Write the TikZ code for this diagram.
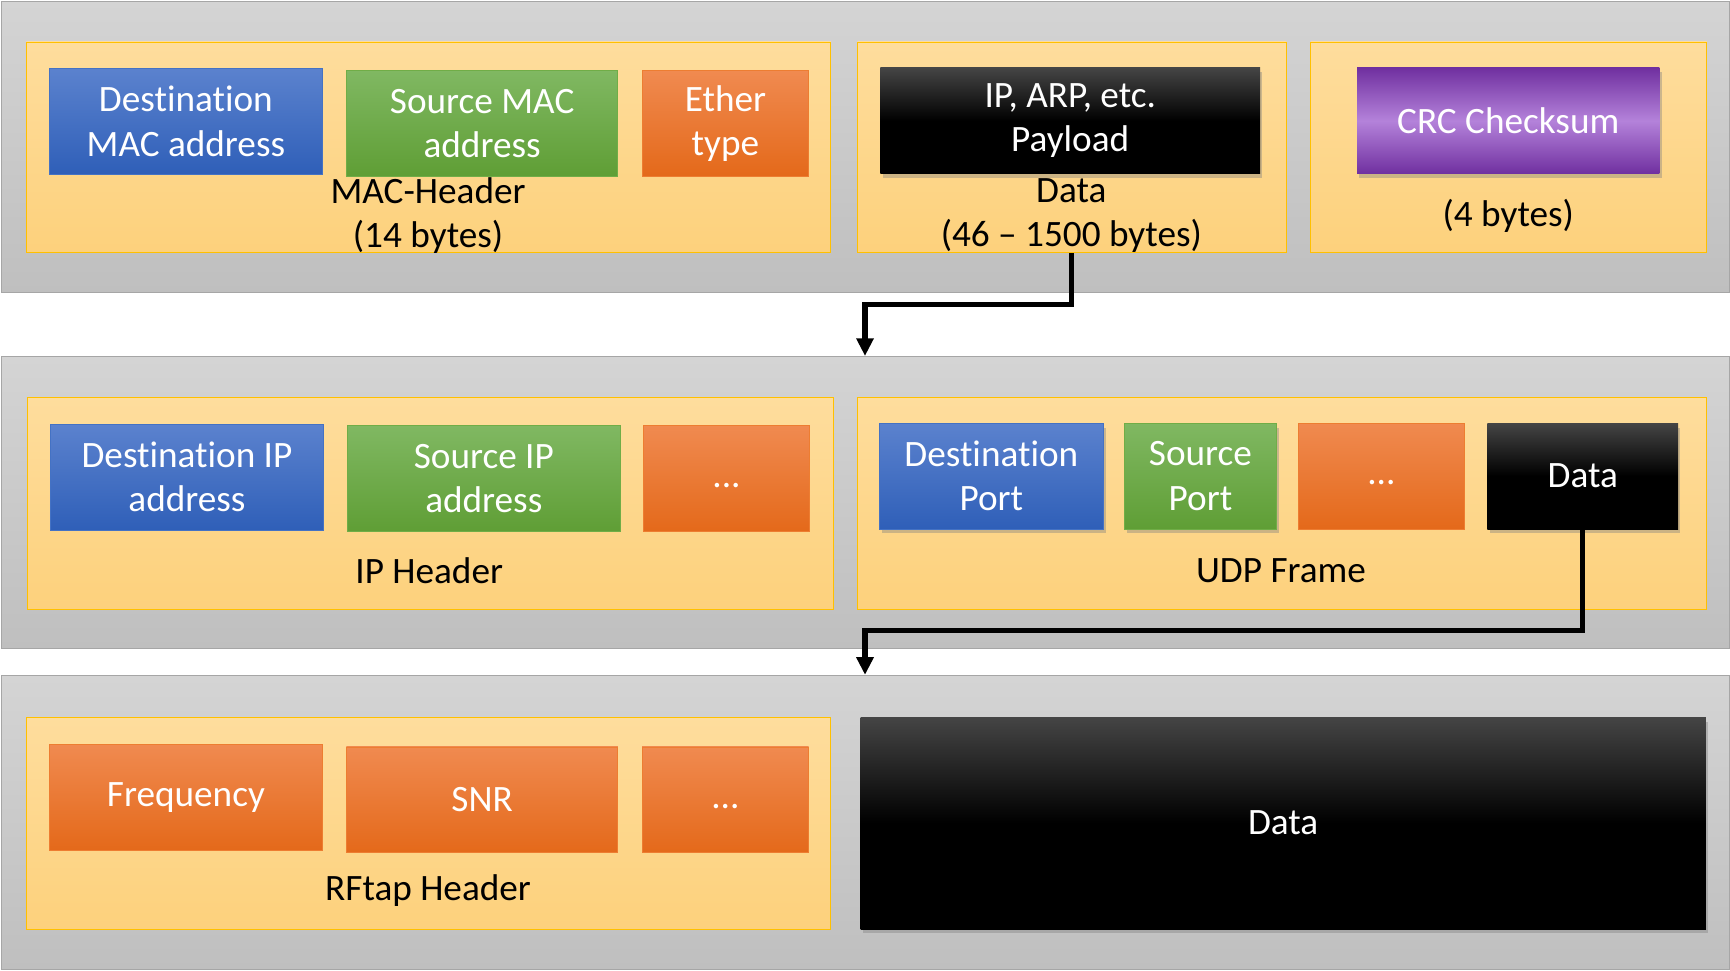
\documentclass[tikz,border=0pt]{standalone}
\usepackage{fontspec}
\setmainfont{Carlito}[Ligatures={TeX,NoCommon}]
\usepackage{tikz}
\usetikzlibrary{arrows.meta,shadows}
\newcommand{\fsize}{\fontsize{19.2}{22.8}\selectfont}
\definecolor{layertop}{HTML}{D4D4D4}
\definecolor{layerbot}{HTML}{BFBFBF}
\definecolor{layerline}{HTML}{A6A6A6}
\definecolor{grouptop}{HTML}{FEDD9D}
\definecolor{groupbot}{HTML}{FDD17C}
\definecolor{groupline}{HTML}{FFC000}
\definecolor{bluetop}{HTML}{5B82CE}
\definecolor{bluebot}{HTML}{2F5FB8}
\definecolor{blueline}{HTML}{4472C4}
\definecolor{greentop}{HTML}{80B862}
\definecolor{greenbot}{HTML}{5F9E35}
\definecolor{greenline}{HTML}{70AD47}
\definecolor{orangetop}{HTML}{F08A50}
\definecolor{orangebot}{HTML}{E4691A}
\definecolor{orangeline}{HTML}{ED7D31}
\definecolor{purpleedge}{HTML}{7030A0}
\definecolor{purplemid}{HTML}{B482DA}
\tikzset{
  layer/.style={draw=layerline, top color=layertop, bottom color=layerbot, minimum width=31.32cm, inner sep=0pt},
  group/.style={draw=groupline, top color=grouptop, bottom color=groupbot, inner sep=0pt},
  field/.style={inner sep=0pt, minimum height=1.92cm, text=white, align=center, font=\fsize},
  bluefield/.style={field, draw=blueline, top color=bluetop, bottom color=bluebot},
  greenfield/.style={field, draw=greenline, top color=greentop, bottom color=greenbot},
  orangefield/.style={field, draw=orangeline, top color=orangetop, bottom color=orangebot},
  purplefield/.style={field, top color=purpleedge, bottom color=purpleedge, middle color=purplemid},
  blackfield/.style={field, top color=black!73, bottom color=black, middle color=black},
  lift/.style={drop shadow={opacity=0.4, shadow xshift=0.04cm, shadow yshift=-0.08cm}},
  lbl/.style={inner sep=0pt, align=center, font=\fsize},
  conn/.style={-{Triangle[width=0.3cm, length=0.32cm]}, line width=2.6pt}
}

\begin{document}
\begin{tikzpicture}
         \useasboundingbox (0, 0) rectangle (31.36, 17.6);
         \node [layer, minimum height=5.28cm] (ETH) at (15.68, 14.94) {};
         \node [layer, minimum height=5.3cm] (IPL) at (15.68, 8.49) {};
         \node [layer, minimum height=5.34cm] (RFL) at (15.68, 2.69) {};
         \node [group, minimum width=14.58cm, minimum height=3.82cm] (MH) at (7.77, 14.93) {};
         \node [group, minimum width=7.78cm, minimum height=3.82cm] (PD) at (19.43, 14.93) {};
         \node [group, minimum width=7.18cm, minimum height=3.82cm] (CK) at (27.35, 14.93) {};
         \node [group, minimum width=14.6cm, minimum height=3.84cm] (IH) at (7.8, 8.48) {};
         \node [group, minimum width=15.4cm, minimum height=3.84cm] (UF) at (23.24, 8.48) {};
         \node [group, minimum width=14.58cm, minimum height=3.84cm] (RH) at (7.77, 2.68) {};
         \node [blackfield, lift, minimum width=15.32cm, minimum height=3.84cm] (RD) at (23.26, 2.68) {Data};
         \node [bluefield, minimum width=4.94cm] (DM) at (3.37, 15.4) {Destination\\MAC address};
         \node [greenfield, minimum width=4.92cm] (SM) at (8.74, 15.36) {Source MAC\\address};
         \node [orangefield, minimum width=3.02cm] (ET) at (13.15, 15.36) {Ether\\type};
         \node [blackfield, lift, minimum width=6.88cm] (PL) at (19.4, 15.41) {IP, ARP, etc.\\Payload};
         \node [purplefield, lift, minimum width=5.48cm] (CS) at (27.34, 15.41) {CRC Checksum};
         \node [lbl] (MHL) at (7.76, 13.69) {MAC-Header\\(14 bytes)};
         \node [lbl] (PDL) at (19.42, 13.69) {Data\\(46 -- 1500 bytes)};
         \node [lbl] (CKL) at (27.34, 13.68) {(4 bytes)};
         \node [bluefield, minimum width=4.94cm] (DI) at (3.39, 8.95) {Destination IP\\address};
         \node [greenfield, minimum width=4.94cm] (SI) at (8.77, 8.92) {Source IP\\address};
         \node [orangefield, minimum width=3.02cm] (IX) at (13.17, 8.92) {\strut...};
         \node [bluefield, lift, minimum width=4.06cm] (DP) at (17.97, 8.97) {Destination\\Port};
         \node [greenfield, lift, minimum width=2.76cm] (SP) at (21.76, 8.97) {Source\\Port};
         \node [orangefield, minimum width=3.0cm] (UX) at (25.04, 8.97) {\strut...};
         \node [blackfield, lift, minimum width=3.46cm] (UD) at (28.69, 8.97) {Data};
         \node [lbl] (IHL) at (7.78, 7.26) {IP Header};
         \node [lbl] (UFL) at (23.22, 7.26) {UDP Frame};
         \node [orangefield, minimum width=4.94cm] (FQ) at (3.37, 3.15) {Frequency};
         \node [orangefield, minimum width=4.92cm] (SN) at (8.74, 3.1) {SNR};
         \node [orangefield, minimum width=3.02cm] (RX) at (13.15, 3.1) {\strut...};
         \node [lbl] (RHL) at (7.76, 1.46) {RFtap Header};
         \draw [conn] (PD.south) -- ++(0, -0.94) -| (IPL.north);
         \draw [conn] (UD.south) -- ++(0, -1.84) -| (RFL.north);
\end{tikzpicture}
\end{document}
